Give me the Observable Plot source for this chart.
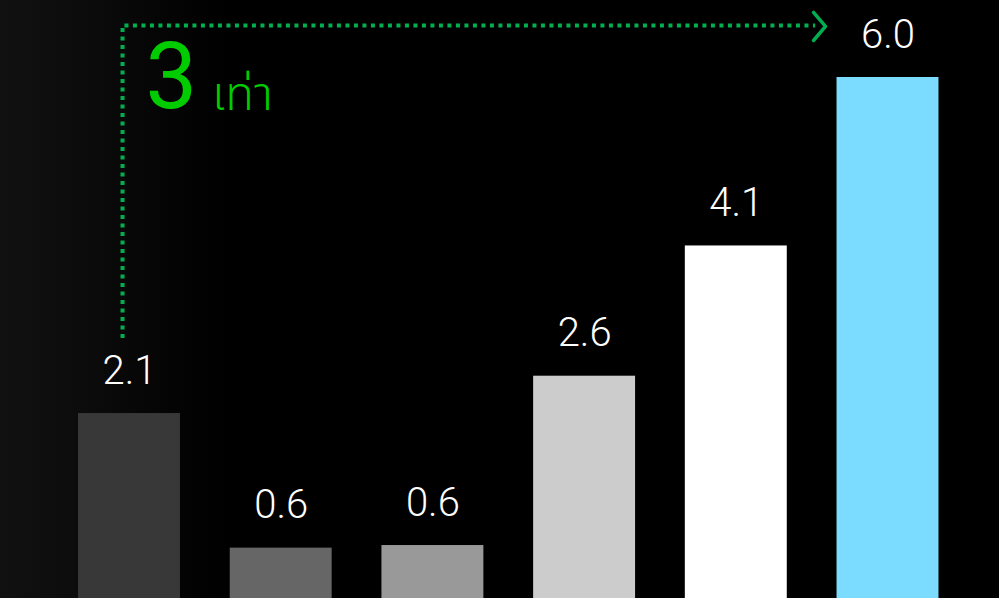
<!DOCTYPE html>
<html>
<head>
<meta charset="utf-8">
<script src="https://cdn.jsdelivr.net/npm/d3@7"></script>
<script src="https://cdn.jsdelivr.net/npm/@observablehq/plot@0.6"></script>
<style>
  html, body { margin: 0; padding: 0; background: #000; overflow: hidden; }
  #chart svg { display: block; }
</style>
</head>
<body>
<div id="chart"></div>
<script>
// Data
const categories = ["A", "B", "C", "D", "E", "F"];
const values = [2.13, 0.58, 0.61, 2.56, 4.06, 6.0];
const valueLabels = ["2.1", "0.6", "0.6", "2.6", "4.1", "6.0"];
const barColors = ["#383838", "#666666", "#999999", "#cccccc", "#ffffff", "#7cdcff"];

// Annotation (in data units: x = bar index, y = value)
const arrowPath = [
  {x: -0.046, y: 3.0},
  {x: -0.046, y: 6.6},
  {x: 4.52, y: 6.6}
];
const chevron = [
  {x: 4.509, y: 6.749},
  {x: 4.588, y: 6.588},
  {x: 4.509, y: 6.426}
];
const bigNumber = [{x: 0.105, y: 5.643, text: "3"}];
const unitText = [{x: 0.545, y: 5.62, text: "เท่า"}];

const bars = categories.map((c, i) => ({
  i, category: c, value: values[i], label: valueLabels[i], color: barColors[i]
}));

const halfWidth = 0.336;

const chart = Plot.plot({
  width: 999,
  height: 598,
  marginTop: 0, marginBottom: 0, marginLeft: 0, marginRight: 0,
  style: {
    background: "linear-gradient(to right, #111111 0px, #0c0c0c 80px, #050505 160px, #000000 230px)",
    color: "#fff",
    overflow: "visible"
  },
  x: {domain: [-0.5, 5.5], range: [53.15, 963.35], axis: null},
  y: {domain: [0, 6], range: [598, 77], axis: null},
  marks: [
    Plot.rectY(bars, {
      x1: d => d.i - halfWidth,
      x2: d => d.i + halfWidth,
      y1: 0,
      y2: "value",
      fill: d => d.color
    }),
    Plot.text(bars, {
      x: "i",
      y: "value",
      text: "label",
      dy: -30,
      lineAnchor: "bottom",
      fill: "#ffffff",
      fontSize: 40,
      fontFamily: "Roboto, 'Open Sans', sans-serif",
      fontWeight: 300
    }),
    Plot.line(arrowPath, {
      x: "x", y: "y",
      stroke: "#00b050",
      strokeWidth: 4,
      strokeDasharray: "4,4.5",
      strokeLinecap: "butt",
      strokeLinejoin: "miter"
    }),
    Plot.line(chevron, {
      x: "x", y: "y",
      stroke: "#00b050",
      strokeWidth: 3.5,
      strokeLinecap: "round",
      strokeLinejoin: "round"
    }),
    Plot.text(bigNumber, {
      x: "x", y: "y", text: "text",
      textAnchor: "start",
      lineAnchor: "bottom",
      fill: "#00cc00",
      fontSize: 92,
      fontFamily: "Roboto, 'Open Sans', sans-serif",
      fontWeight: 400
    }),
    Plot.text(unitText, {
      x: "x", y: "y", text: "text",
      textAnchor: "start",
      lineAnchor: "bottom",
      fill: "#00cc00",
      fontSize: 47,
      fontFamily: "'Noto Sans Thai', 'Noto Sans', Roboto, sans-serif",
      fontWeight: 300
    })
  ]
});

document.getElementById("chart").appendChild(chart);
</script>
</body>
</html>
